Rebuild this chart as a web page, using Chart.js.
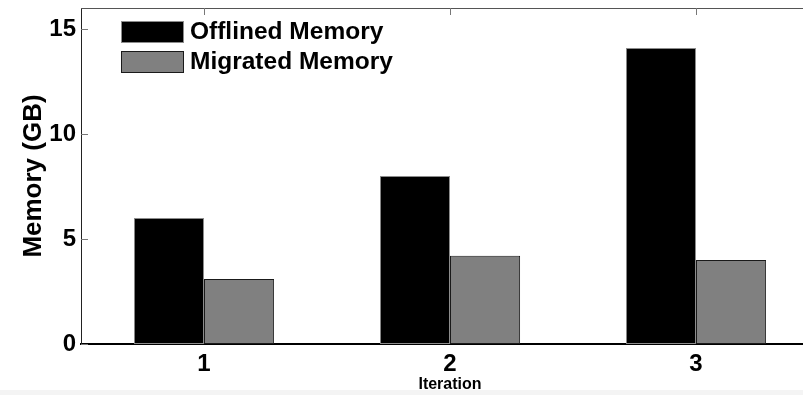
<!DOCTYPE html>
<html>
<head>
<meta charset="utf-8">
<script src="https://cdn.jsdelivr.net/npm/chart.js@4.4.1/dist/chart.umd.min.js"></script>
<style>
  html, body { margin: 0; padding: 0; background: #fff; overflow: hidden; width: 803px; height: 395px; }
  #wrap { position: relative; width: 820px; height: 395px; }
  #band { position: absolute; left: 0; bottom: 0; width: 803px; height: 5px; background: #f4f4f4; }
  canvas { position: absolute; left: 0; top: 0; }
</style>
</head>
<body>
<div id="wrap">
  <div id="band"></div>
  <canvas id="c" width="820" height="395" style="width:820px;height:395px"></canvas>
</div>
<script>
// Memory offlined vs. migrated per iteration (GB)
const iterations = ['1', '2', '3'];
const offlinedMemory = [6, 8, 14.1];
const migratedMemory = [3.1, 4.2, 4.0];
const yTickValues = [0, 5, 10, 15];

const FONT = "'Liberation Sans', Arial, Helvetica, sans-serif";

// Frame, inward tick marks and the in-plot legend
const framePlugin = {
  id: 'frame',
  afterDatasetsDraw(chart) {
    const { ctx, chartArea: a, scales } = chart;
    ctx.save();
    ctx.strokeStyle = '#555';
    ctx.lineWidth = 1;
    // top border
    ctx.beginPath();
    ctx.moveTo(a.left, a.top + 0.5);
    ctx.lineTo(a.right, a.top + 0.5);
    ctx.stroke();
    // y ticks pointing inward
    ctx.strokeStyle = '#777';
    scales.y.ticks.forEach(t => {
      const y = Math.round(scales.y.getPixelForValue(t.value)) + 0.5;
      ctx.beginPath();
      ctx.moveTo(a.left, y);
      ctx.lineTo(a.left + 7, y);
      ctx.stroke();
    });
    // x ticks mirrored on the top edge
    iterations.forEach((_, i) => {
      const x = Math.round(scales.x.getPixelForValue(i)) + 0.5;
      ctx.beginPath();
      ctx.moveTo(x, a.top);
      ctx.lineTo(x, a.top + 7);
      ctx.stroke();
    });
    ctx.restore();
  },
  afterDraw(chart) {
    const { ctx } = chart;
    const x0 = 121, y0 = 21, sw = 62, sh = 21, gap = 30;
    ctx.save();
    ctx.font = 'bold 24.5px ' + FONT;
    ctx.textBaseline = 'middle';
    chart.data.datasets.forEach((ds, i) => {
      const y = y0 + i * gap;
      ctx.fillStyle = ds.backgroundColor;
      ctx.fillRect(x0, y, sw, sh);
      ctx.strokeStyle = ds.borderColor;
      ctx.lineWidth = 1;
      ctx.strokeRect(x0 + 0.5, y + 0.5, sw, sh);
      ctx.fillStyle = '#000';
      ctx.fillText(ds.label, x0 + sw + 7, y + sh / 2 + 1);
    });
    ctx.restore();
  }
};

new Chart(document.getElementById('c'), {
  type: 'bar',
  data: {
    labels: iterations,
    datasets: [
      {
        label: 'Offlined Memory',
        data: offlinedMemory,
        backgroundColor: '#000000',
        borderColor: '#8c8c8c',
        borderWidth: 1,
        borderSkipped: false
      },
      {
        label: 'Migrated Memory',
        data: migratedMemory,
        backgroundColor: '#808080',
        borderColor: '#1a1a1a',
        borderWidth: 1,
        borderSkipped: false
      }
    ]
  },
  options: {
    responsive: false,
    animation: false,
    layout: { padding: { top: 8, left: 0, right: 1, bottom: 0 } },
    plugins: {
      legend: { display: false },
      tooltip: { enabled: false }
    },
    datasets: {
      bar: { barPercentage: 1, categoryPercentage: 0.57 }
    },
    scales: {
      x: {
        type: 'category',
        offset: true,
        grid: { display: false, drawTicks: false },
        border: { display: true, color: '#000', width: 2 },
        ticks: { color: '#000', font: { family: FONT, size: 24, weight: 'bold' }, padding: 6 },
        title: {
          display: true,
          text: 'Iteration',
          color: '#000',
          font: { family: "'Liberation Sans Narrow', " + FONT, size: 16, weight: 'bold' },
          padding: { top: 0, bottom: 1 }
        },
        afterFit(s) { s.height = 51; s.paddingLeft = 0; s.paddingRight = 0; }
      },
      y: {
        min: 0,
        max: 16,
        grid: { display: false, drawTicks: false },
        border: { display: true, color: '#222', width: 1 },
        afterBuildTicks(s) { s.ticks = yTickValues.map(v => ({ value: v })); },
        ticks: { color: '#000', font: { family: FONT, size: 24, weight: 'bold' }, padding: 5 },
        title: {
          display: true,
          text: 'Memory (GB)',
          color: '#000',
          font: { family: FONT, size: 26, weight: 'bold' },
          padding: { top: 18, bottom: 0 }
        },
        afterFit(s) { s.width = 81; s.paddingTop = 0; s.paddingBottom = 0; }
      }
    }
  },
  plugins: [framePlugin]
});
</script>
</body>
</html>
